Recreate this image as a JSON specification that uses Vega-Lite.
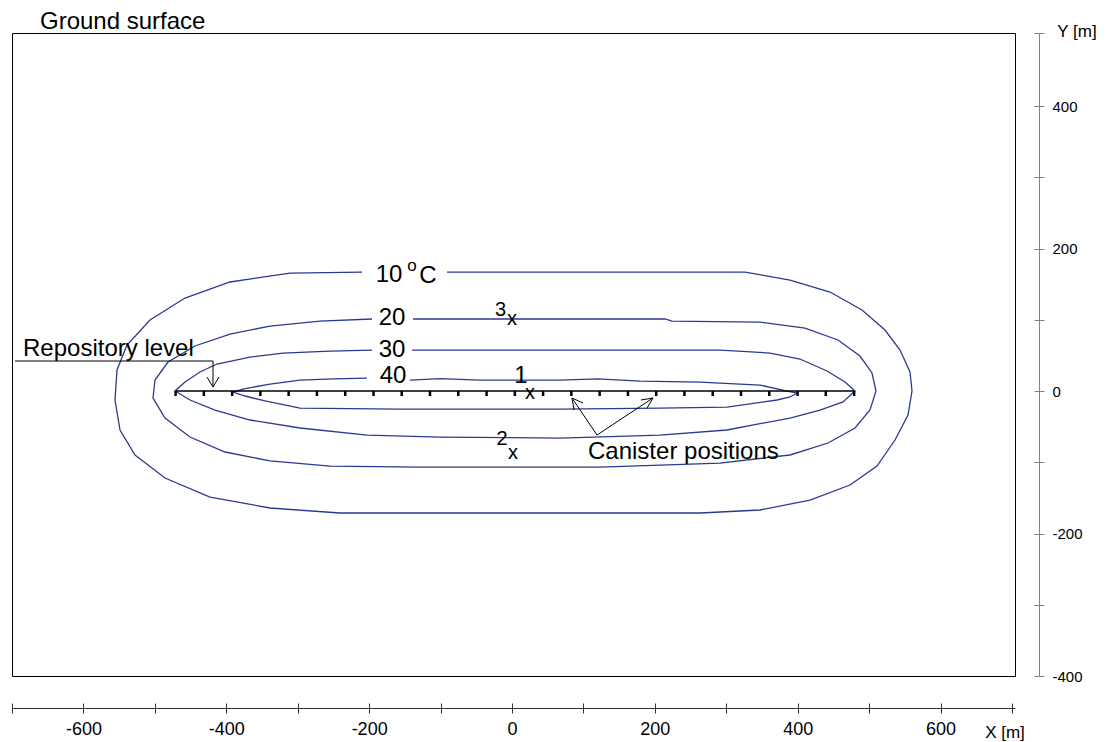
{
  "$schema": "https://vega.github.io/schema/vega-lite/v6.json",
  "width": 1003,
  "height": 643,
  "autosize": {"type": "none"},
  "padding": {"left": 12, "top": 33, "right": 91, "bottom": 66},
  "background": "white",
  "config": {
    "view": {"stroke": "#000000", "strokeWidth": 1},
    "axis": {"grid": false},
    "text": {"font": "Liberation Sans", "color": "#000000"}
  },
  "resolve": {"axis": {"x": "independent", "y": "independent"}},
  "datasets": {
    "lines": [
      {"series": "10", "group": "contour", "order": 1, "x": -91.0, "y": 167.0},
      {"series": "10", "group": "contour", "order": 2, "x": 11.2, "y": 167.0},
      {"series": "10", "group": "contour", "order": 3, "x": 151.2, "y": 167.0},
      {"series": "10", "group": "contour", "order": 4, "x": 326.2, "y": 167.0},
      {"series": "10", "group": "contour", "order": 5, "x": 389.2, "y": 155.8},
      {"series": "10", "group": "contour", "order": 6, "x": 445.2, "y": 138.9},
      {"series": "10", "group": "contour", "order": 7, "x": 490.0, "y": 113.7},
      {"series": "10", "group": "contour", "order": 8, "x": 522.2, "y": 85.6},
      {"series": "10", "group": "contour", "order": 9, "x": 543.2, "y": 57.5},
      {"series": "10", "group": "contour", "order": 10, "x": 557.2, "y": 26.7},
      {"series": "10", "group": "contour", "order": 11, "x": 560.0, "y": 0},
      {"series": "10", "group": "contour", "order": 12, "x": 554.4, "y": -33.7},
      {"series": "10", "group": "contour", "order": 13, "x": 536.2, "y": -68.8},
      {"series": "10", "group": "contour", "order": 14, "x": 511.0, "y": -105.3},
      {"series": "10", "group": "contour", "order": 15, "x": 473.2, "y": -131.9},
      {"series": "10", "group": "contour", "order": 16, "x": 417.2, "y": -153.0},
      {"series": "10", "group": "contour", "order": 17, "x": 347.2, "y": -167.0},
      {"series": "10", "group": "contour", "order": 18, "x": 263.2, "y": -171.2},
      {"series": "10", "group": "contour", "order": 19, "x": 11.2, "y": -171.2},
      {"series": "10", "group": "contour", "order": 20, "x": -240.8, "y": -171.2},
      {"series": "10", "group": "contour", "order": 21, "x": -338.8, "y": -164.2},
      {"series": "10", "group": "contour", "order": 22, "x": -422.8, "y": -148.8},
      {"series": "10", "group": "contour", "order": 23, "x": -485.8, "y": -122.1},
      {"series": "10", "group": "contour", "order": 24, "x": -527.8, "y": -89.8},
      {"series": "10", "group": "contour", "order": 25, "x": -548.8, "y": -54.7},
      {"series": "10", "group": "contour", "order": 26, "x": -555.8, "y": -12.6},
      {"series": "10", "group": "contour", "order": 27, "x": -553.0, "y": 29.5},
      {"series": "10", "group": "contour", "order": 28, "x": -539.0, "y": 64.6},
      {"series": "10", "group": "contour", "order": 29, "x": -506.8, "y": 99.6},
      {"series": "10", "group": "contour", "order": 30, "x": -457.8, "y": 130.5},
      {"series": "10", "group": "contour", "order": 31, "x": -394.8, "y": 153.0},
      {"series": "10", "group": "contour", "order": 32, "x": -310.8, "y": 165.6},
      {"series": "10", "group": "contour", "order": 33, "x": -210.0, "y": 167.0},

      {"series": "20", "group": "contour", "order": 1, "x": -138.6, "y": 101.1},
      {"series": "20", "group": "contour", "order": 2, "x": 67.2, "y": 101.1},
      {"series": "20", "group": "contour", "order": 3, "x": 214.2, "y": 101.1},
      {"series": "20", "group": "contour", "order": 4, "x": 224.0, "y": 98.2},
      {"series": "20", "group": "contour", "order": 5, "x": 347.2, "y": 96.8},
      {"series": "20", "group": "contour", "order": 6, "x": 410.2, "y": 88.4},
      {"series": "20", "group": "contour", "order": 7, "x": 456.4, "y": 71.6},
      {"series": "20", "group": "contour", "order": 8, "x": 487.2, "y": 49.1},
      {"series": "20", "group": "contour", "order": 9, "x": 504.0, "y": 25.3},
      {"series": "20", "group": "contour", "order": 10, "x": 509.6, "y": 0},
      {"series": "20", "group": "contour", "order": 11, "x": 501.2, "y": -26.7},
      {"series": "20", "group": "contour", "order": 12, "x": 480.2, "y": -51.9},
      {"series": "20", "group": "contour", "order": 13, "x": 442.4, "y": -73.0},
      {"series": "20", "group": "contour", "order": 14, "x": 389.2, "y": -89.8},
      {"series": "20", "group": "contour", "order": 15, "x": 291.2, "y": -101.1},
      {"series": "20", "group": "contour", "order": 16, "x": 123.2, "y": -106.7},
      {"series": "20", "group": "contour", "order": 17, "x": -128.8, "y": -106.7},
      {"series": "20", "group": "contour", "order": 18, "x": -254.8, "y": -105.3},
      {"series": "20", "group": "contour", "order": 19, "x": -338.8, "y": -98.2},
      {"series": "20", "group": "contour", "order": 20, "x": -401.8, "y": -85.6},
      {"series": "20", "group": "contour", "order": 21, "x": -450.8, "y": -64.6},
      {"series": "20", "group": "contour", "order": 22, "x": -485.8, "y": -37.9},
      {"series": "20", "group": "contour", "order": 23, "x": -502.6, "y": -9.8},
      {"series": "20", "group": "contour", "order": 24, "x": -499.8, "y": 15.4},
      {"series": "20", "group": "contour", "order": 25, "x": -481.6, "y": 40.7},
      {"series": "20", "group": "contour", "order": 26, "x": -443.8, "y": 63.2},
      {"series": "20", "group": "contour", "order": 27, "x": -394.8, "y": 80.0},
      {"series": "20", "group": "contour", "order": 28, "x": -338.8, "y": 91.2},
      {"series": "20", "group": "contour", "order": 29, "x": -268.8, "y": 98.2},
      {"series": "20", "group": "contour", "order": 30, "x": -196.0, "y": 101.1},

      {"series": "30", "group": "contour", "order": 1, "x": -140.0, "y": 57.5},
      {"series": "30", "group": "contour", "order": 2, "x": 67.2, "y": 57.5},
      {"series": "30", "group": "contour", "order": 3, "x": 291.2, "y": 57.5},
      {"series": "30", "group": "contour", "order": 4, "x": 361.2, "y": 53.3},
      {"series": "30", "group": "contour", "order": 5, "x": 403.2, "y": 44.9},
      {"series": "30", "group": "contour", "order": 6, "x": 441.0, "y": 28.1},
      {"series": "30", "group": "contour", "order": 7, "x": 466.2, "y": 12.6},
      {"series": "30", "group": "contour", "order": 8, "x": 480.2, "y": 0},
      {"series": "30", "group": "contour", "order": 9, "x": 463.4, "y": -15.4},
      {"series": "30", "group": "contour", "order": 10, "x": 431.2, "y": -26.7},
      {"series": "30", "group": "contour", "order": 11, "x": 389.2, "y": -37.9},
      {"series": "30", "group": "contour", "order": 12, "x": 301.0, "y": -54.7},
      {"series": "30", "group": "contour", "order": 13, "x": 207.2, "y": -61.8},
      {"series": "30", "group": "contour", "order": 14, "x": 67.2, "y": -66.0},
      {"series": "30", "group": "contour", "order": 15, "x": -100.8, "y": -64.6},
      {"series": "30", "group": "contour", "order": 16, "x": -203.0, "y": -61.8},
      {"series": "30", "group": "contour", "order": 17, "x": -296.8, "y": -51.9},
      {"series": "30", "group": "contour", "order": 18, "x": -366.8, "y": -40.7},
      {"series": "30", "group": "contour", "order": 19, "x": -415.8, "y": -26.7},
      {"series": "30", "group": "contour", "order": 20, "x": -450.8, "y": -12.6},
      {"series": "30", "group": "contour", "order": 21, "x": -471.8, "y": 0},
      {"series": "30", "group": "contour", "order": 22, "x": -457.8, "y": 12.6},
      {"series": "30", "group": "contour", "order": 23, "x": -436.8, "y": 26.7},
      {"series": "30", "group": "contour", "order": 24, "x": -413.0, "y": 37.9},
      {"series": "30", "group": "contour", "order": 25, "x": -366.8, "y": 47.7},
      {"series": "30", "group": "contour", "order": 26, "x": -320.6, "y": 53.3},
      {"series": "30", "group": "contour", "order": 27, "x": -254.8, "y": 56.1},
      {"series": "30", "group": "contour", "order": 28, "x": -196.0, "y": 57.5},

      {"series": "40", "group": "contour", "order": 1, "x": -142.8, "y": 15.4},
      {"series": "40", "group": "contour", "order": 2, "x": -100.0, "y": 17.5},
      {"series": "40", "group": "contour", "order": 3, "x": -44.8, "y": 15.4},
      {"series": "40", "group": "contour", "order": 4, "x": 67.2, "y": 15.4},
      {"series": "40", "group": "contour", "order": 5, "x": 120.0, "y": 17.0},
      {"series": "40", "group": "contour", "order": 6, "x": 179.2, "y": 14.0},
      {"series": "40", "group": "contour", "order": 7, "x": 263.2, "y": 12.6},
      {"series": "40", "group": "contour", "order": 8, "x": 347.2, "y": 8.4},
      {"series": "40", "group": "contour", "order": 9, "x": 385.0, "y": 0},
      {"series": "40", "group": "contour", "order": 10, "x": 399.0, "y": -2.8},
      {"series": "40", "group": "contour", "order": 11, "x": 389.2, "y": -8.4},
      {"series": "40", "group": "contour", "order": 12, "x": 371.0, "y": -12.6},
      {"series": "40", "group": "contour", "order": 13, "x": 301.0, "y": -22.5},
      {"series": "40", "group": "contour", "order": 14, "x": 207.2, "y": -23.9},
      {"series": "40", "group": "contour", "order": 15, "x": 67.2, "y": -25.3},
      {"series": "40", "group": "contour", "order": 16, "x": -156.8, "y": -25.3},
      {"series": "40", "group": "contour", "order": 17, "x": -296.8, "y": -23.9},
      {"series": "40", "group": "contour", "order": 18, "x": -345.8, "y": -14.0},
      {"series": "40", "group": "contour", "order": 19, "x": -373.8, "y": -7.0},
      {"series": "40", "group": "contour", "order": 20, "x": -390.6, "y": -1.4},
      {"series": "40", "group": "contour", "order": 21, "x": -376.6, "y": 2.8},
      {"series": "40", "group": "contour", "order": 22, "x": -338.8, "y": 9.8},
      {"series": "40", "group": "contour", "order": 23, "x": -296.8, "y": 15.4},
      {"series": "40", "group": "contour", "order": 24, "x": -250.0, "y": 17.0},
      {"series": "40", "group": "contour", "order": 25, "x": -203.0, "y": 18.2},

      {"series": "repository", "group": "repository", "order": 1, "x": -471, "y": 0},
      {"series": "repository", "group": "repository", "order": 2, "x": 479, "y": 0},

      {"series": "repoArrow", "group": "annotation", "order": 1, "x": -695.8, "y": 42.1},
      {"series": "repoArrow", "group": "annotation", "order": 2, "x": -418.6, "y": 42.1},
      {"series": "repoArrow", "group": "annotation", "order": 3, "x": -418.6, "y": 5.6},
      {"series": "repoHead", "group": "annotation", "order": 1, "x": -427.0, "y": 19.6},
      {"series": "repoHead", "group": "annotation", "order": 2, "x": -418.6, "y": 5.6},
      {"series": "repoHead", "group": "annotation", "order": 3, "x": -410.2, "y": 19.6},

      {"series": "canArrowL", "group": "annotation", "order": 1, "x": 119.0, "y": -61.8},
      {"series": "canArrowL", "group": "annotation", "order": 2, "x": 84.0, "y": -9.8},
      {"series": "canHeadL", "group": "annotation", "order": 1, "x": 99.4, "y": -16.8},
      {"series": "canHeadL", "group": "annotation", "order": 2, "x": 84.0, "y": -9.8},
      {"series": "canHeadL", "group": "annotation", "order": 3, "x": 86.8, "y": -26.7},
      {"series": "canArrowR", "group": "annotation", "order": 1, "x": 119.0, "y": -61.8},
      {"series": "canArrowR", "group": "annotation", "order": 2, "x": 197.4, "y": -9.8},
      {"series": "canHeadR", "group": "annotation", "order": 1, "x": 180.6, "y": -12.6},
      {"series": "canHeadR", "group": "annotation", "order": 2, "x": 197.4, "y": -9.8},
      {"series": "canHeadR", "group": "annotation", "order": 3, "x": 189.0, "y": -23.9}
    ],
    "canisters": [
      {"x": -471.0}, {"x": -431.4}, {"x": -391.8}, {"x": -352.3}, {"x": -312.7},
      {"x": -273.1}, {"x": -233.5}, {"x": -193.9}, {"x": -154.4}, {"x": -114.8},
      {"x": -75.2}, {"x": -35.6}, {"x": 4.0}, {"x": 43.5}, {"x": 83.1},
      {"x": 122.7}, {"x": 162.3}, {"x": 201.9}, {"x": 241.4}, {"x": 281.0},
      {"x": 320.6}, {"x": 360.2}, {"x": 399.8}, {"x": 439.3}, {"x": 479.0}
    ],
    "labels": [
      {"kind": "note", "text": "Ground surface", "x": -660.8, "y": 508.1},
      {"kind": "note", "text": "Repository level", "x": -684.6, "y": 49.1},
      {"kind": "note", "text": "Canister positions", "x": 106.4, "y": -95.4},
      {"kind": "contour", "text": "10", "x": -172.2, "y": 162.8},
      {"kind": "contour", "text": "C", "x": -117.6, "y": 161.4},
      {"kind": "contour", "text": "20", "x": -168.0, "y": 102.5},
      {"kind": "contour", "text": "30", "x": -168.0, "y": 58.2},
      {"kind": "contour", "text": "40", "x": -166.6, "y": 20.4},
      {"kind": "contour", "text": "1", "x": 12.6, "y": 20.4},
      {"kind": "degree", "text": "o", "x": -140.0, "y": 175.4},
      {"kind": "marker", "text": "3", "x": -16.1, "y": 113.7},
      {"kind": "marker", "text": "2", "x": -14.0, "y": -66.7},
      {"kind": "marker", "text": "x", "x": 0.0, "y": 100.4},
      {"kind": "marker", "text": "x", "x": 25.2, "y": -2.1},
      {"kind": "marker", "text": "x", "x": 1.4, "y": -87.7},
      {"kind": "axistitle", "text": "Y [m]", "x": 791.0, "y": 503.9},
      {"kind": "axistitle", "text": "X [m]", "x": 690.2, "y": -480.0}
    ]
  },
  "layer": [
    {
      "data": {"name": "lines"},
      "transform": [{"filter": "datum.group === 'contour'"}],
      "mark": {"type": "line", "color": "#2b3990", "strokeWidth": 1.3, "clip": false},
      "encoding": {
        "x": {
          "field": "x", "type": "quantitative",
          "scale": {"domain": [-700, 704.2], "nice": false, "zero": false},
          "axis": {
            "orient": "bottom", "offset": 32, "title": null,
            "values": [-700, -600, -500, -400, -300, -200, -100, 0, 100, 200, 300, 400, 500, 600, 700],
            "labelExpr": "datum.value % 200 == 0 ? '' + datum.value : ''",
            "domainColor": "#333333", "tickColor": "#333333", "tickSize": 5,
            "labelFont": "Liberation Sans", "labelFontSize": 18, "labelColor": "#000000",
            "labelPadding": 7, "labelFlush": false, "labelOverlap": false
          }
        },
        "y": {
          "field": "y", "type": "quantitative",
          "scale": {"domain": [-400, 502.5], "nice": false, "zero": false},
          "axis": {
            "orient": "right", "offset": 24, "title": null,
            "values": [-400, -300, -200, -100, 0, 100, 200, 300, 400, 502.5],
            "labelExpr": "datum.value % 200 == 0 ? '' + datum.value : ''",
            "domainColor": "#808080", "tickColor": "#808080", "tickSize": 5,
            "labelFont": "Liberation Sans", "labelFontSize": 15, "labelColor": "#000000",
            "labelPadding": 8, "labelFlush": false, "labelOverlap": false
          }
        },
        "detail": {"field": "series"},
        "order": {"field": "order", "type": "quantitative"}
      }
    },
    {
      "data": {"name": "lines"},
      "transform": [{"filter": "datum.group === 'annotation'"}],
      "mark": {"type": "line", "color": "#000000", "strokeWidth": 1},
      "encoding": {
        "x": {
          "field": "x", "type": "quantitative",
          "axis": {
            "orient": "bottom", "offset": 32, "title": null, "labels": false, "domain": false,
            "values": [-700, -600, -500, -400, -300, -200, -100, 0, 100, 200, 300, 400, 500, 600, 700],
            "tickColor": "#333333", "tickSize": -5
          }
        },
        "y": {
          "field": "y", "type": "quantitative",
          "axis": {
            "orient": "right", "offset": 24, "title": null, "labels": false, "domain": false,
            "values": [-400, -300, -200, -100, 0, 100, 200, 300, 400, 502.5],
            "tickColor": "#808080", "tickSize": -5
          }
        },
        "detail": {"field": "series"},
        "order": {"field": "order", "type": "quantitative"}
      }
    },
    {
      "data": {"name": "lines"},
      "transform": [{"filter": "datum.group === 'repository'"}],
      "mark": {"type": "line", "color": "#000000", "strokeWidth": 1.5},
      "encoding": {
        "x": {"field": "x", "type": "quantitative", "axis": null},
        "y": {"field": "y", "type": "quantitative", "axis": null},
        "detail": {"field": "series"},
        "order": {"field": "order", "type": "quantitative"}
      }
    },
    {
      "data": {"name": "canisters"},
      "mark": {"type": "rule", "color": "#000000", "strokeWidth": 2.5},
      "encoding": {
        "x": {"field": "x", "type": "quantitative", "axis": null},
        "y": {"datum": 0, "axis": null},
        "y2": {"datum": -7}
      }
    },
    {
      "data": {"name": "labels"},
      "transform": [{"filter": "datum.kind === 'note'"}],
      "mark": {"type": "text", "fontSize": 24, "align": "left", "baseline": "alphabetic", "font": "Liberation Sans"},
      "encoding": {
        "x": {"field": "x", "type": "quantitative", "axis": null},
        "y": {"field": "y", "type": "quantitative", "axis": null},
        "text": {"field": "text"}
      }
    },
    {
      "data": {"name": "labels"},
      "transform": [{"filter": "datum.kind === 'contour'"}],
      "mark": {"type": "text", "fontSize": 24, "align": "center", "baseline": "middle", "font": "Liberation Sans"},
      "encoding": {
        "x": {"field": "x", "type": "quantitative", "axis": null},
        "y": {"field": "y", "type": "quantitative", "axis": null},
        "text": {"field": "text"}
      }
    },
    {
      "data": {"name": "labels"},
      "transform": [{"filter": "datum.kind === 'marker'"}],
      "mark": {"type": "text", "fontSize": 20, "align": "center", "baseline": "middle", "font": "Liberation Sans"},
      "encoding": {
        "x": {"field": "x", "type": "quantitative", "axis": null},
        "y": {"field": "y", "type": "quantitative", "axis": null},
        "text": {"field": "text"}
      }
    },
    {
      "data": {"name": "labels"},
      "transform": [{"filter": "datum.kind === 'degree' || datum.kind === 'axistitle'"}],
      "mark": {"type": "text", "fontSize": 17, "align": "center", "baseline": "middle", "font": "Liberation Sans"},
      "encoding": {
        "x": {"field": "x", "type": "quantitative", "axis": null},
        "y": {"field": "y", "type": "quantitative", "axis": null},
        "text": {"field": "text"}
      }
    }
  ]
}
